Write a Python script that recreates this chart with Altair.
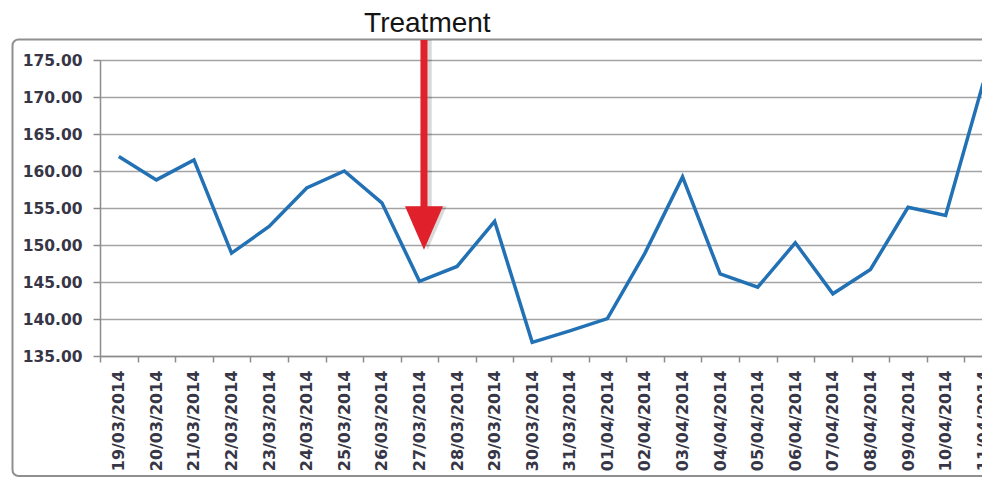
import json
import altair as alt
import pandas as pd

# ---- data ----
dates = ["19/03/2014", "20/03/2014", "21/03/2014", "22/03/2014", "23/03/2014",
         "24/03/2014", "25/03/2014", "26/03/2014", "27/03/2014", "28/03/2014",
         "29/03/2014", "30/03/2014", "31/03/2014", "01/04/2014", "02/04/2014",
         "03/04/2014", "04/04/2014", "05/04/2014", "06/04/2014", "07/04/2014",
         "08/04/2014", "09/04/2014", "10/04/2014", "11/04/2014"]
values = [161.95, 158.8, 161.5, 148.9, 152.5, 157.7, 160.0, 155.7, 145.1, 147.1,
          153.2, 136.85, 138.4, 140.05, 148.9, 159.2, 146.1, 144.3, 150.3, 143.4,
          146.7, 155.1, 154.0, 171.9]
y_ticks = [135, 140, 145, 150, 155, 160, 165, 170, 175]

# annotation (in data units)
note_text = ["Treatment"]
note_x = [8.21]
note_y = [178.8]
arrow_x = [8.12]
arrow_top = [177.7]
arrow_base = [154.6]
arrow_head_y = [152.3]

n = len(dates)
df = pd.DataFrame({"idx": list(range(n)), "date": dates, "value": values})
boundaries = [i - 0.5 for i in range(n + 1)]
x_vals = sorted(boundaries + list(range(n)))
label_expr = "datum.value % 1 == 0 ? " + json.dumps(dates) + "[datum.value] : ''"

xscale = alt.Scale(domain=[-0.5, n - 0.5], range=[0, 902], nice=False, zero=False)
yscale = alt.Scale(domain=[135, 175], nice=False, zero=False)

axis_col = "#8c8c8c"
lab_col = "#363646"

line = alt.Chart(df).mark_line(color="#2271b5", strokeWidth=3.5, clip=True).encode(
    x=alt.X("idx:Q", scale=xscale,
            axis=alt.Axis(values=x_vals, tickCount=200, labelExpr=label_expr, title=None, grid=False,
                          labelAngle=270, labelFont="DejaVu Sans", labelFontSize=16,
                          labelFontWeight="bold", labelColor=lab_col, labelPadding=8,
                          labelOverlap=False, labelBound=False, labelFlush=False,
                          tickSize=6, tickColor=axis_col, tickWidth=1.5,
                          tickOpacity={"condition": {"test": "datum.value % 1 == 0", "value": 0}, "value": 1},
                          domainColor=axis_col, domainWidth=1.5)),
    y=alt.Y("value:Q", scale=yscale,
            axis=alt.Axis(values=y_ticks, tickCount=50, format=".2f", title=None, grid=True,
                          gridColor="#a3a3a3", gridWidth=1.7, labelOverlap=False,
                          labelFont="DejaVu Sans", labelFontSize=15.5, labelFontWeight="bold",
                          labelColor=lab_col, labelPadding=11, tickSize=7,
                          tickColor=axis_col, tickWidth=1.5,
                          domainColor=axis_col, domainWidth=1.5)),
)

adf = pd.DataFrame({"x": arrow_x, "top": arrow_top, "base": arrow_base, "head": arrow_head_y,
                    "xs": [v + 0.1 for v in arrow_x]})

shaft_shadow = alt.Chart(adf).mark_rule(color="#000000", opacity=0.15, strokeWidth=8).encode(
    x=alt.X("xs:Q", scale=xscale), y=alt.Y("top:Q", scale=yscale), y2="base:Q")
shaft = alt.Chart(adf).mark_rule(color="#e0202a", strokeWidth=7).encode(
    x=alt.X("x:Q", scale=xscale), y=alt.Y("top:Q", scale=yscale), y2="base:Q")

tri = "M-1,-1.14L1,-1.14L0,1.14Z"
head_shadow = alt.Chart(adf).mark_point(shape=tri, size=1444, filled=True, color="#000000",
                                        opacity=0.15).encode(
    x=alt.X("xs:Q", scale=xscale), y=alt.Y("head:Q", scale=yscale))
head = alt.Chart(adf).mark_point(shape=tri, size=1444, filled=True, color="#e0202a",
                                 opacity=1).encode(
    x=alt.X("x:Q", scale=xscale), y=alt.Y("head:Q", scale=yscale))

ndf = pd.DataFrame({"t": note_text, "x": note_x, "y": note_y})
note = alt.Chart(ndf).mark_text(font="Liberation Sans", fontSize=28, color="#141414",
                                align="center", baseline="alphabetic").encode(
    x=alt.X("x:Q", scale=xscale), y=alt.Y("y:Q", scale=yscale), text="t:N")

frame = alt.Chart(pd.DataFrame({"k": [0]})).mark_rect(
    fill=None, stroke="#8f8f8f", strokeWidth=2, cornerRadius=6).encode(
    x=alt.value(-87.5), x2=alt.value(920), y=alt.value(-20.5), y2=alt.value(416))

chart = alt.layer(frame, line, shaft_shadow, head_shadow, shaft, head, note).properties(
    width=882, height=296,
    padding={"left": 100, "top": 60, "right": 0, "bottom": 122},
    autosize=alt.AutoSizeParams(type="none"),
    background="white",
).configure_view(stroke=None)

chart.save("out.html", embed_options={"renderer": "svg", "actions": False})
